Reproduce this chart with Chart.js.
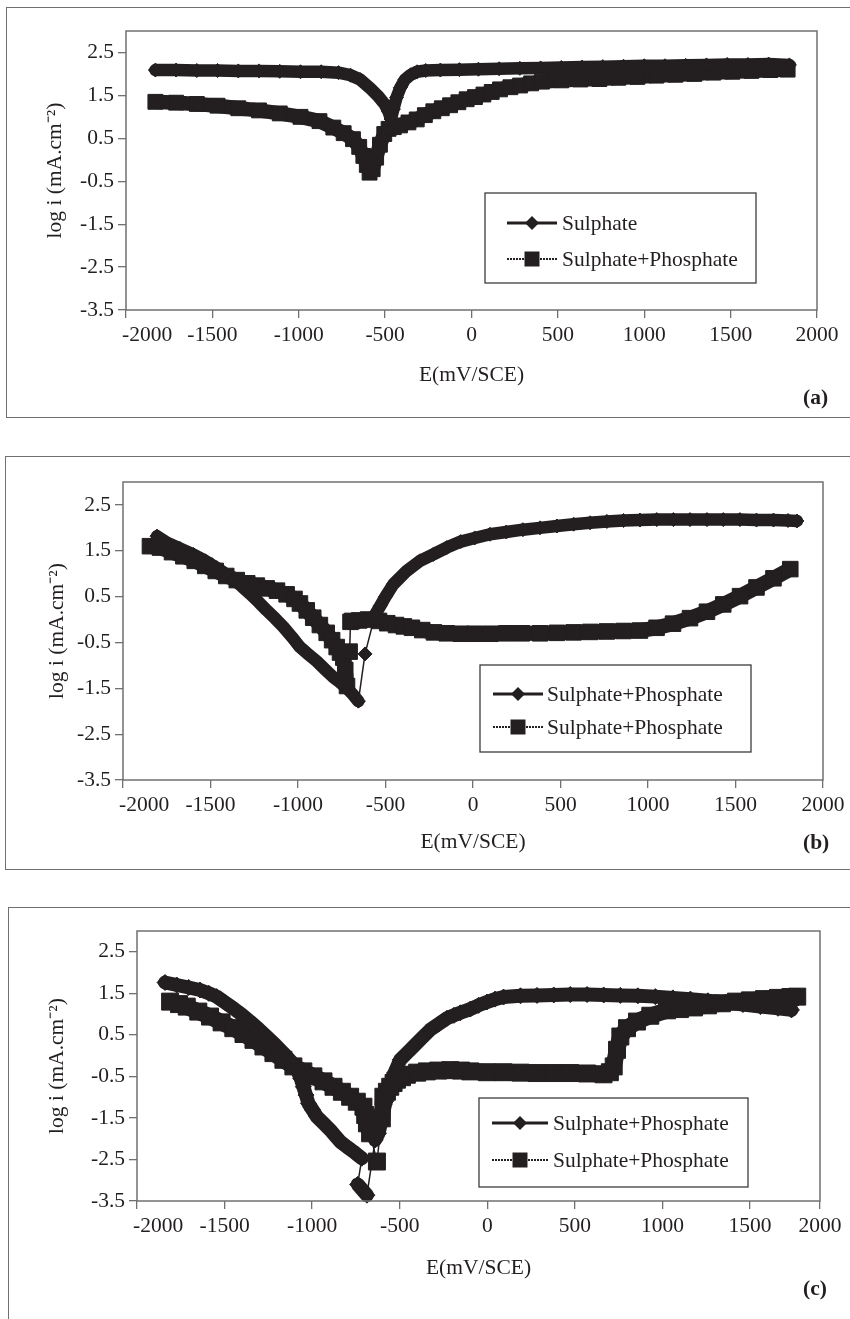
<!DOCTYPE html>
<html>
<head>
<meta charset="utf-8">
<script src="https://cdn.jsdelivr.net/npm/chart.js@4.4.1/dist/chart.umd.min.js"></script>
<style>
  html, body { margin: 0; padding: 0; background: #fff; }
  body { width: 850px; height: 1319px; position: relative; overflow: hidden;
         font-family: "Liberation Serif", "Times New Roman", serif; color: #231f20; }
  .frame { position: absolute; border: 1.5px solid #707070; box-sizing: border-box; }
  .tag { position: absolute; left: 803px; font-weight: bold; font-size: 21.5px; line-height: 24px; }
  canvas { position: absolute; left: 0; }
</style>
</head>
<body>
<div class="frame" style="left:6px;top:7px;width:900px;height:411px"></div>
<div class="frame" style="left:5px;top:456px;width:900px;height:414px"></div>
<div class="frame" style="left:8px;top:907px;width:900px;height:500px"></div>
<canvas id="chartA" width="850" height="440" style="top:0"></canvas>
<canvas id="chartB" width="850" height="460" style="top:440px"></canvas>
<canvas id="chartC" width="850" height="419" style="top:900px"></canvas>
<div class="tag" style="top:385px">(a)</div>
<div class="tag" style="top:830px">(b)</div>
<div class="tag" style="top:1276px">(c)</div>
<script>
'use strict';
// ── Axes ────────────────────────────────────────────────────────────────────
const yTickValues  = [-3.5, -2.5, -1.5, -0.5, 0.5, 1.5, 2.5];
const xTickValues  = [-2000, -1500, -1000, -500, 0, 500, 1000, 1500, 2000];
const xTickLabels  = ['-2000', '-1500', '-1000', '-500', '0', '500', '1000', '1500', '2000'];
const xTickValuesC = [-2000, -1500, -1000, -500, 0, 500, 1000, 1500, 1900];

const labelsA = ['Sulphate', 'Sulphate+Phosphate'];
const labelsB = ['Sulphate+Phosphate', 'Sulphate+Phosphate'];
const labelsC = ['Sulphate+Phosphate', 'Sulphate+Phosphate'];

// ── (a) ─────────────────────────────────────────────────────────────────────
const aSulE   = [-1830,-1710,-1590,-1470,-1350,-1230,-1110,-990,-870,-770,-700,-645,-590,-540,-502,-480,-466,-452,-434,-412,-385,-352,-315,-265,-180,-70,40,160,280,400,520,640,760,880,1000,1120,1240,1360,1480,1600,1720,1840];
const aSulLog = [2.09,2.09,2.08,2.08,2.07,2.07,2.06,2.05,2.05,2.03,1.97,1.87,1.68,1.48,1.29,1.12,0.95,1.18,1.45,1.68,1.87,1.98,2.05,2.08,2.09,2.10,2.11,2.12,2.13,2.14,2.15,2.16,2.17,2.18,2.19,2.19,2.20,2.21,2.22,2.22,2.23,2.21];
const aPhosE   = [-1830,-1710,-1590,-1470,-1350,-1230,-1110,-990,-880,-800,-740,-686,-650,-626,-606,-590,-572,-552,-530,-505,-480,-450,-414,-365,-317,-270,-221,-172,-124,-76,-28,20,69,117,165,225,281,345,408,520,630,740,850,960,1070,1180,1290,1400,1510,1620,1730,1830];
const aPhosLog = [1.35,1.33,1.30,1.26,1.20,1.15,1.08,1.00,0.90,0.75,0.62,0.48,0.30,0.09,-0.12,-0.30,-0.22,0.05,0.35,0.60,0.72,0.76,0.80,0.87,0.94,1.04,1.13,1.20,1.27,1.34,1.41,1.46,1.52,1.58,1.64,1.69,1.73,1.78,1.82,1.85,1.87,1.88,1.91,1.93,1.96,1.98,2.00,2.03,2.05,2.07,2.09,2.10];

// ── (b) ─────────────────────────────────────────────────────────────────────
const bDiaE   = [-1806,-1751,-1675,-1598,-1530,-1465,-1420,-1370,-1320,-1274,-1225,-1179,-1130,-1084,-1035,-989,-940,-893,-845,-798,-760,-722,-690,-655,-617,-560,-530,-500,-455,-379,-303,-227,-150,-70,10,97,190,285,383,480,575,669,765,860,954,1050,1145,1240,1337,1430,1525,1620,1717,1800,1851];
const bDiaLog = [1.82,1.68,1.55,1.42,1.28,1.13,1.01,0.88,0.72,0.56,0.38,0.20,0.02,-0.16,-0.38,-0.60,-0.76,-0.91,-1.09,-1.26,-1.37,-1.49,-1.62,-1.78,-0.75,0.10,0.30,0.50,0.77,1.06,1.28,1.42,1.57,1.70,1.78,1.86,1.91,1.96,2.00,2.04,2.08,2.11,2.14,2.16,2.17,2.18,2.18,2.18,2.18,2.18,2.18,2.17,2.17,2.16,2.15];
const bSqE   = [-1846,-1789,-1720,-1655,-1590,-1530,-1470,-1410,-1350,-1290,-1235,-1179,-1120,-1065,-1020,-989,-950,-913,-875,-836,-805,-779,-760,-741,-730,-720,-705,-700,-690,-650,-600,-537,-490,-440,-395,-349,-290,-223,-150,-70,10,100,190,280,383,480,575,670,765,860,954,1049,1143,1240,1337,1430,1526,1620,1717,1813];
const bSqLog = [1.60,1.57,1.47,1.38,1.28,1.17,1.06,0.95,0.86,0.79,0.74,0.68,0.63,0.55,0.45,0.35,0.20,0.04,-0.12,-0.29,-0.45,-0.60,-0.72,-0.83,-1.10,-1.45,-0.70,-0.05,-0.03,-0.02,0.00,-0.03,-0.08,-0.12,-0.15,-0.18,-0.23,-0.28,-0.30,-0.31,-0.31,-0.31,-0.30,-0.30,-0.30,-0.29,-0.28,-0.27,-0.26,-0.25,-0.24,-0.18,-0.09,0.03,0.17,0.33,0.51,0.70,0.90,1.10];

// ── (c) ─────────────────────────────────────────────────────────────────────
const cDiaE   = [-1840,-1773,-1705,-1640,-1590,-1545,-1497,-1450,-1400,-1354,-1305,-1259,-1210,-1164,-1120,-1087,-1065,-1050,-1035,-1021,-997,-973,-935,-897,-868,-840,-800,-764,-740,-716,-740,-687,-640,-621,-600,-580,-560,-530,-497,-459,-421,-374,-326,-278,-230,-190,-154,-97,-50,-2,45,93,190,284,380,474,570,665,760,860,960,1060,1160,1260,1360,1460,1560,1660,1737];
const cDiaLog = [1.76,1.70,1.64,1.58,1.50,1.42,1.28,1.14,0.98,0.82,0.64,0.46,0.26,0.06,-0.14,-0.34,-0.55,-0.75,-0.95,-1.15,-1.31,-1.47,-1.63,-1.79,-1.93,-2.07,-2.20,-2.31,-2.39,-2.47,-3.10,-3.36,-2.03,-1.87,-1.50,-1.10,-0.75,-0.42,-0.10,0.06,0.22,0.42,0.62,0.76,0.90,0.97,1.03,1.12,1.21,1.29,1.36,1.41,1.44,1.45,1.46,1.47,1.47,1.46,1.45,1.44,1.42,1.39,1.36,1.32,1.28,1.23,1.18,1.14,1.10];
const cSqE   = [-1811,-1760,-1716,-1650,-1583,-1517,-1450,-1392,-1335,-1278,-1221,-1164,-1107,-1050,-993,-935,-878,-830,-783,-745,-707,-697,-687,-669,-630,-602,-593,-573,-554,-535,-516,-487,-459,-400,-345,-280,-211,-150,-97,-2,93,190,284,380,474,570,664,700,722,741,760,798,855,931,1027,1100,1180,1260,1340,1420,1500,1580,1660,1731,1770];
const cSqLog = [1.30,1.24,1.18,1.06,0.94,0.80,0.66,0.52,0.38,0.22,0.06,-0.10,-0.26,-0.38,-0.50,-0.62,-0.75,-0.87,-0.99,-1.11,-1.23,-1.43,-1.63,-1.87,-2.55,-1.51,-0.99,-0.87,-0.75,-0.66,-0.58,-0.52,-0.46,-0.41,-0.38,-0.36,-0.35,-0.36,-0.38,-0.40,-0.40,-0.41,-0.42,-0.42,-0.42,-0.43,-0.45,-0.40,-0.26,0.14,0.46,0.66,0.82,0.96,1.09,1.12,1.16,1.21,1.26,1.30,1.33,1.36,1.39,1.41,1.42];

// ── Style ───────────────────────────────────────────────────────────────────
const INK  = '#231f20';
const AXIS = '#707070';
const FONT = '"Liberation Serif", "Times New Roman", serif';
const FSIZE = 21.5;

Chart.defaults.font.family = FONT;
Chart.defaults.font.size = FSIZE;
Chart.defaults.color = INK;

const pts = (xs, ys) => xs.map((x, i) => ({ x, y: ys[i] }));

// bande épaisse ; les longs sauts (points isolés) restent en trait fin
// k = [px par mV, px par décade] du panneau
function series(label, xs, ys, style, band, radius, k) {
  const widths = xs.map((x, i) => i < xs.length - 1 &&
    Math.hypot((xs[i + 1] - x) * k[0], (ys[i + 1] - ys[i]) * k[1]) > 24.5 ? 1.5 : band);
  return {
    label, data: pts(xs, ys), showLine: true, clip: false,
    borderColor: INK, backgroundColor: INK, borderWidth: band,
    borderCapStyle: 'round', borderJoinStyle: 'round',
    pointStyle: style, pointRadius: radius, pointHoverRadius: radius,
    pointBackgroundColor: INK, pointBorderColor: INK, pointBorderWidth: 1,
    segment: { borderWidth: c => widths[c.p0DataIndex] },
  };
}

function marker(ctx, style, x, y) {
  ctx.beginPath();
  if (style === 'rectRot') {
    ctx.moveTo(x - 7, y); ctx.lineTo(x, y - 7); ctx.lineTo(x + 7, y); ctx.lineTo(x, y + 7);
    ctx.closePath();
  } else {
    ctx.rect(x - 7.5, y - 7.5, 15, 15);
  }
  ctx.fill();
}

// cadre du tracé, légende encadrée, premier libellé x calé à gauche
function decor(L) {
  return {
    id: 'decor',
    afterLayout(chart) {
      const items = chart.scales.x.getLabelItems();
      if (items.length) {
        items[0].options.textAlign = 'left';
        items[0].options.translation[0] = chart.chartArea.left - 4;
      }
    },
    afterDraw(chart) {
      const { ctx, chartArea: a } = chart;
      ctx.save();
      ctx.strokeStyle = AXIS; ctx.lineWidth = 1.5;
      ctx.strokeRect(a.left, a.top, a.right - a.left, a.bottom - a.top);
      ctx.fillStyle = '#fff';
      ctx.fillRect(L.left, L.top, L.right - L.left, L.bottom - L.top);
      ctx.strokeStyle = '#3c3c3c'; ctx.lineWidth = 1.3;
      ctx.strokeRect(L.left, L.top, L.right - L.left, L.bottom - L.top);
      chart.data.datasets.forEach((ds, i) => {
        const y = L.rows[i];
        ctx.strokeStyle = INK;
        ctx.lineWidth = i ? 2 : 2.8;
        ctx.setLineDash(i ? [2, 1] : []);
        ctx.beginPath(); ctx.moveTo(L.lineFrom, y); ctx.lineTo(L.lineTo, y); ctx.stroke();
        ctx.setLineDash([]);
        ctx.fillStyle = INK;
        marker(ctx, ds.pointStyle, (L.lineFrom + L.lineTo) / 2, y);
        ctx.font = FSIZE + 'px ' + FONT;
        ctx.textBaseline = 'middle';
        ctx.textAlign = 'left';
        ctx.fillText(ds.label, L.textX, y + 1);
      });
      ctx.restore();
    },
  };
}

function makeChart(id, P) {
  const grid = { drawOnChartArea: false, tickLength: 8, color: AXIS, lineWidth: 1.3 };
  return new Chart(document.getElementById(id), {
    type: 'scatter',
    data: { datasets: P.datasets },
    options: {
      responsive: false, animation: false, events: [],
      layout: { padding: { left: 0, top: P.area.top, right: 850 - P.area.right, bottom: 0 } },
      scales: {
        x: {
          type: 'linear', min: -2000, max: P.xMax,
          afterFit: s => { s.height = P.height - P.area.bottom; },
          afterBuildTicks: s => { s.ticks = P.xTicks.map(v => ({ value: v })); },
          ticks: { callback: (v, i) => xTickLabels[i], padding: 4.5, maxRotation: 0, autoSkip: false },
          grid, border: { display: false },
          title: { display: true, text: 'E(mV/SCE)', padding: { top: 0, bottom: P.xTitlePad } },
        },
        y: {
          type: 'linear', min: -3.5, max: 3,
          afterFit: s => { s.width = P.area.left; },
          afterBuildTicks: s => { s.ticks = yTickValues.map(v => ({ value: v })); },
          ticks: { callback: v => v.toFixed(1), padding: 4, autoSkip: false },
          grid, border: { display: false },
          title: { display: true, text: 'log i (mA.cm⁻²)', padding: { top: P.yTitlePad, bottom: 0 } },
        },
      },
      plugins: { legend: { display: false }, tooltip: { enabled: false } },
    },
    plugins: [decor(P.legend)],
  });
}

const kA = [691 / 4000, 279 / 6.5];
const kB = [700 / 4000, 298 / 6.5];
const kC = [683 / 3900, 270 / 6.5];

makeChart('chartA', {
  height: 440, area: { left: 126, right: 817, top: 31, bottom: 310 },
  xMax: 2000, xTicks: xTickValues, xTitlePad: 52, yTitlePad: 42.5,
  legend: { left: 485, top: 193, right: 756, bottom: 283, rows: [223, 259], lineFrom: 507, lineTo: 557, textX: 562 },
  datasets: [
    series(labelsA[0], aSulE, aSulLog, 'rectRot', 12.5, 7, kA),
    series(labelsA[1], aPhosE, aPhosLog, 'rect', 14.5, 10.5, kA),
  ],
});

makeChart('chartB', {
  height: 460, area: { left: 123, right: 823, top: 42, bottom: 340 },
  xMax: 2000, xTicks: xTickValues, xTitlePad: 45, yTitlePad: 44,
  legend: { left: 480, top: 225, right: 751, bottom: 312, rows: [254, 287], lineFrom: 493, lineTo: 543, textX: 547 },
  datasets: [
    series(labelsB[0], bDiaE, bDiaLog, 'rectRot', 12.5, 7, kB),
    series(labelsB[1], bSqE, bSqLog, 'rect', 15, 11, kB),
  ],
});

makeChart('chartC', {
  height: 419, area: { left: 137, right: 820, top: 31, bottom: 301 },
  xMax: 1900, xTicks: xTickValuesC, xTitlePad: 38, yTitlePad: 44,
  legend: { left: 479, top: 198, right: 748, bottom: 287, rows: [223, 260], lineFrom: 492, lineTo: 548, textX: 553 },
  datasets: [
    series(labelsC[0], cDiaE, cDiaLog, 'rectRot', 14, 8, kC),
    series(labelsC[1], cSqE, cSqLog, 'rect', 16.5, 12, kC),
  ],
});
</script>
</body>
</html>
